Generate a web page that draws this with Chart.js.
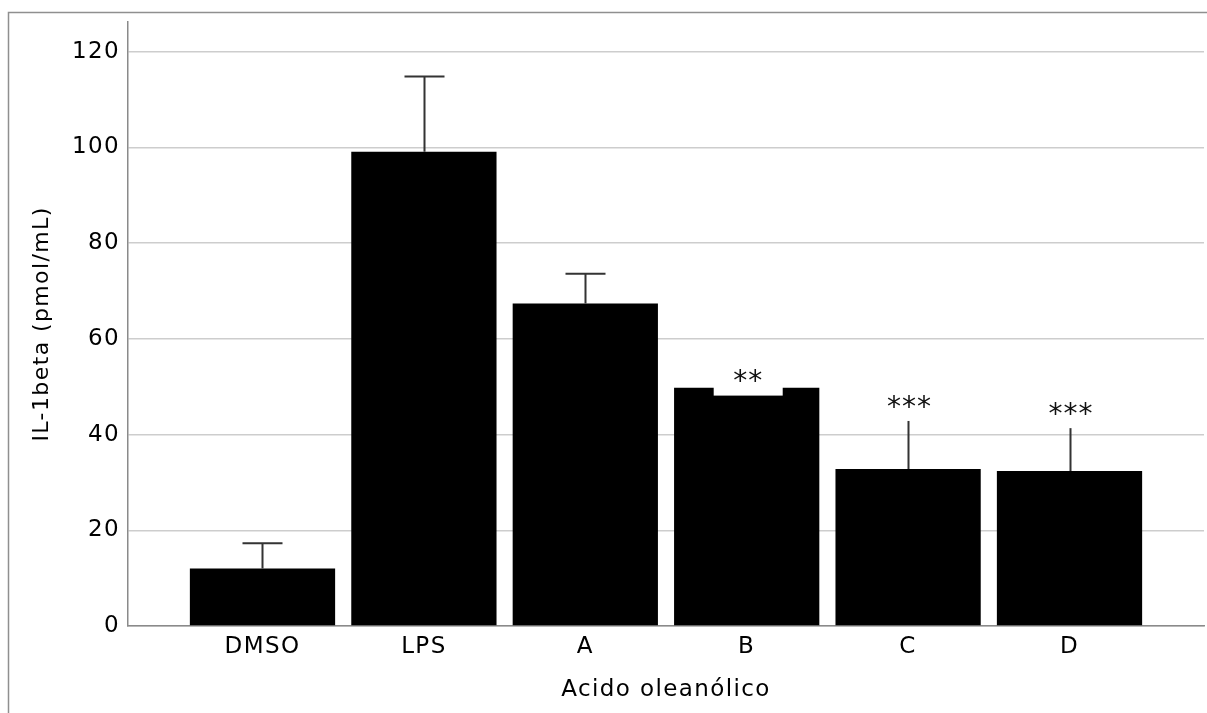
<!DOCTYPE html>
<html>
<head>
<meta charset="utf-8">
<script src="https://cdn.jsdelivr.net/npm/chart.js@4"></script>
<style>
  html, body { margin: 0; padding: 0; background: #fff; }
  #wrap { width: 1207px; height: 713px; position: relative; }
</style>
</head>
<body>
<div id="wrap"><canvas id="c" width="1207" height="713"></canvas></div>
<script>
// Groups on the x axis
const groups = ['DMSO', 'LPS', 'A', 'B', 'C', 'D'];
// Mean IL-1beta per group (pmol/mL)
const meanValues = [12.0, 99.1, 67.4, 49.8, 32.8, 32.4];
// Upper end of each error bar (pmol/mL)
const upperValues = [17.3, 114.8, 73.6, 53.0, 44.5, 43.0];
// Significance marks and the level they sit at (pmol/mL)
const starLabels = ['', '', '', '**', '***', '***'];
const starLevels = [null, null, null, 51.8, 46.5, 45.0];
// Y axis ticks and range
const yTicks = [0, 20, 40, 60, 80, 100, 120];
const yMax = 126.25;

const FONT = 'DejaVu Sans';
const TEXT = '#000000';
const AXIS = '#8a8a8a';

const extras = {
  id: 'extras',
  beforeDraw(chart) {
    const ctx = chart.ctx;
    ctx.letterSpacing = '1.4px';
    // outer frame (top and left edges)
    ctx.save();
    ctx.strokeStyle = '#8f8f8f';
    ctx.lineWidth = 1.5;
    ctx.beginPath();
    ctx.moveTo(8.5, 713);
    ctx.lineTo(8.5, 12.5);
    ctx.lineTo(1207, 12.5);
    ctx.stroke();
    ctx.restore();
  },
  afterDatasetsDraw(chart) {
    const ctx = chart.ctx;
    const xs = chart.scales.x, ys = chart.scales.y;
    ctx.save();
    // error bars
    ctx.strokeStyle = '#333333';
    ctx.lineWidth = 2;
    groups.forEach((g, i) => {
      const px = Math.round(xs.getPixelForValue(i)) + 0.5;
      const y0 = ys.getPixelForValue(meanValues[i]);
      const y1 = ys.getPixelForValue(upperValues[i]);
      ctx.beginPath();
      ctx.moveTo(px, y0);
      ctx.lineTo(px, y1);
      ctx.moveTo(px - 20, y1);
      ctx.lineTo(px + 20, y1);
      ctx.stroke();
    });
    // significance marks on white boxes
    ctx.font = '28px "' + FONT + '"';
    ctx.textAlign = 'center';
    ctx.textBaseline = 'middle';
    ctx.letterSpacing = '1px';
    starLabels.forEach((s, i) => {
      if (!s) return;
      const px = xs.getPixelForValue(i);
      const py = ys.getPixelForValue(starLevels[i]);
      ctx.fillStyle = '#ffffff';
      ctx.fillRect(px - 33, py - 17.5, 69, 35);
      ctx.fillStyle = '#111111';
      ctx.fillText(s, px + 1.5, py + 5);
    });
    ctx.restore();
  }
};

new Chart(document.getElementById('c'), {
  type: 'bar',
  data: {
    datasets: [{
      data: meanValues.map((v, i) => ({ x: i, y: v })),
      backgroundColor: '#000000',
      borderWidth: 0,
      barPercentage: 0.9,
      categoryPercentage: 1.0
    }]
  },
  options: {
    responsive: false,
    devicePixelRatio: 1,
    animation: false,
    layout: { padding: { top: 19, right: 3, left: 0, bottom: 0 } },
    plugins: { legend: { display: false }, tooltip: { enabled: false } },
    scales: {
      x: {
        type: 'linear',
        offset: false,
        min: -0.8333,
        max: 5.8333,
        afterBuildTicks: s => { s.ticks = groups.map((g, i) => ({ value: i })); },
        afterFit: s => { s.height = 87; },
        ticks: {
          callback: v => groups[v] ?? '',
          font: { family: FONT, size: 23 },
          color: TEXT,
          padding: 7,
          maxRotation: 0,
          autoSkip: false
        },
        grid: { display: false, drawTicks: false },
        border: { display: true, color: AXIS, width: 1.5 },
        title: {
          display: true,
          text: 'Acido oleanólico',
          font: { family: FONT, size: 23 },
          color: TEXT,
          padding: { top: 0, bottom: 9 }
        }
      },
      y: {
        min: 0,
        max: yMax,
        afterBuildTicks: s => { s.ticks = yTicks.map(v => ({ value: v })); },
        afterFit: s => { s.width = 128; },
        ticks: {
          font: { family: FONT, size: 23 },
          color: TEXT,
          padding: 8
        },
        grid: { color: '#cdcdcd', lineWidth: 1.5, drawTicks: false },
        border: { display: true, color: AXIS, width: 1.5 },
        title: {
          display: true,
          text: 'IL-1beta (pmol/mL)',
          font: { family: FONT, size: 22 },
          color: TEXT,
          padding: { top: 29, bottom: 0 }
        }
      }
    }
  },
  plugins: [extras]
});
</script>
</body>
</html>
